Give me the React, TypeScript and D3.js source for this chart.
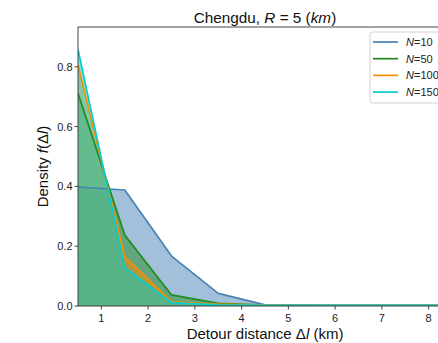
import React from "react";
import * as d3 from "d3";

const xs = [0.5, 1.5, 2.5, 3.5, 4.5, 5.5, 6.5, 7.5, 8.5];
const n10 = [0.398, 0.388, 0.167, 0.042, 0.004, 0.001, 0.0005, 0.0005, 0.0005];
const n50 = [0.711, 0.237, 0.037, 0.009, 0.003, 0.002, 0.002, 0.002, 0.002];
const n100 = [0.806, 0.165, 0.014, 0.006, 0.003, 0.002, 0.002, 0.002, 0.002];
const n150 = [0.858, 0.128, 0.011, 0.004, 0.002, 0.002, 0.002, 0.002, 0.002];
const seriesLabels = ["10", "50", "100", "150"];
const seriesColors = ["#4682b4", "#228b22", "#ff8c00", "#00ced1"];
const xTicks = [1, 2, 3, 4, 5, 6, 7, 8];
const yTicks = [0, 0.2, 0.4, 0.6, 0.8];

const W = 438;
const H = 343;
const M = { left: 78, top: 27, right: 452, bottom: 306 };
const FONT = "'Liberation Sans', Arial, Helvetica, sans-serif";

export default function App() {
  const x = d3.scaleLinear().domain([0.5, 8.5]).range([M.left, M.right]);
  const y = d3.scaleLinear().domain([0, 0.933]).range([M.bottom, M.top]);
  const series = [n10, n50, n100, n150];
  const area = d3
    .area<number>()
    .x((_, i) => x(xs[i]))
    .y0(y(0))
    .y1((d) => y(d));
  const line = d3
    .line<number>()
    .x((_, i) => x(xs[i]))
    .y((d) => y(d));

  const legX = 370;
  const legY = 32;
  return (
    <svg
      width={W}
      height={H}
      style={{ position: "absolute", left: 0, top: 0, background: "#fff" }}
      fontFamily={FONT}
    >
      <defs>
        <clipPath id="plot">
          <rect x={M.left} y={M.top} width={M.right - M.left} height={M.bottom - M.top} />
        </clipPath>
      </defs>
      <g clipPath="url(#plot)">
        {series.map((s, i) => (
          <path key={"a" + i} d={area(s) || ""} fill={seriesColors[i]} fillOpacity={0.5} stroke="none" />
        ))}
        {series.map((s, i) => (
          <path
            key={"l" + i}
            d={line(s) || ""}
            fill="none"
            stroke={seriesColors[i]}
            strokeWidth={1.7}
            strokeLinejoin="round"
          />
        ))}
      </g>
      {/* spines */}
      <rect
        x={M.left}
        y={M.top}
        width={M.right - M.left}
        height={M.bottom - M.top}
        fill="none"
        stroke="#333"
        strokeWidth={0.9}
      />
      {/* x ticks */}
      {xTicks.map((t) => (
        <g key={"x" + t}>
          <line x1={x(t)} x2={x(t)} y1={M.bottom} y2={M.bottom + 3.5} stroke="#333" strokeWidth={0.9} />
          <text x={x(t)} y={M.bottom + 15.5} fontSize={11} textAnchor="middle" fill="#222">
            {t}
          </text>
        </g>
      ))}
      {/* y ticks */}
      {yTicks.map((t) => (
        <g key={"y" + t}>
          <line x1={M.left - 3.5} x2={M.left} y1={y(t)} y2={y(t)} stroke="#333" strokeWidth={0.9} />
          <text x={M.left - 5.5} y={y(t) + 4} fontSize={11} textAnchor="end" fill="#222">
            {t.toFixed(1)}
          </text>
        </g>
      ))}
      {/* title */}
      <text x={(M.left + M.right) / 2} y={22.5} fontSize={15.3} textAnchor="middle" fill="#111">
        Chengdu, <tspan fontStyle="italic">R</tspan> = 5 (<tspan fontStyle="italic">km</tspan>)
      </text>
      {/* x label */}
      <text x={(M.left + M.right) / 2} y={339} fontSize={15} textAnchor="middle" fill="#111">
        Detour distance Δ<tspan fontStyle="italic">l</tspan> (km)
      </text>
      {/* y label */}
      <text
        transform={`translate(${47.5},${(M.top + M.bottom) / 2}) rotate(-90)`}
        fontSize={15}
        textAnchor="middle"
        fill="#111"
      >
        Density <tspan fontStyle="italic">f</tspan>(Δ<tspan fontStyle="italic">l</tspan>)
      </text>
      {/* legend */}
      <rect x={legX} y={legY} width={90} height={71} rx={2.5} fill="#fff" fillOpacity={0.85} stroke="#ccc" strokeWidth={0.9} />
      {seriesLabels.map((lab, i) => {
        const yy = legY + 10 + i * 16.7;
        return (
          <g key={"lg" + i}>
            <line x1={legX + 3} x2={legX + 28} y1={yy} y2={yy} stroke={seriesColors[i]} strokeWidth={1.7} />
            <text x={legX + 36} y={yy + 4} fontSize={11} fill="#222">
              <tspan fontStyle="italic">N</tspan>={lab}
            </text>
          </g>
        );
      })}
    </svg>
  );
}
